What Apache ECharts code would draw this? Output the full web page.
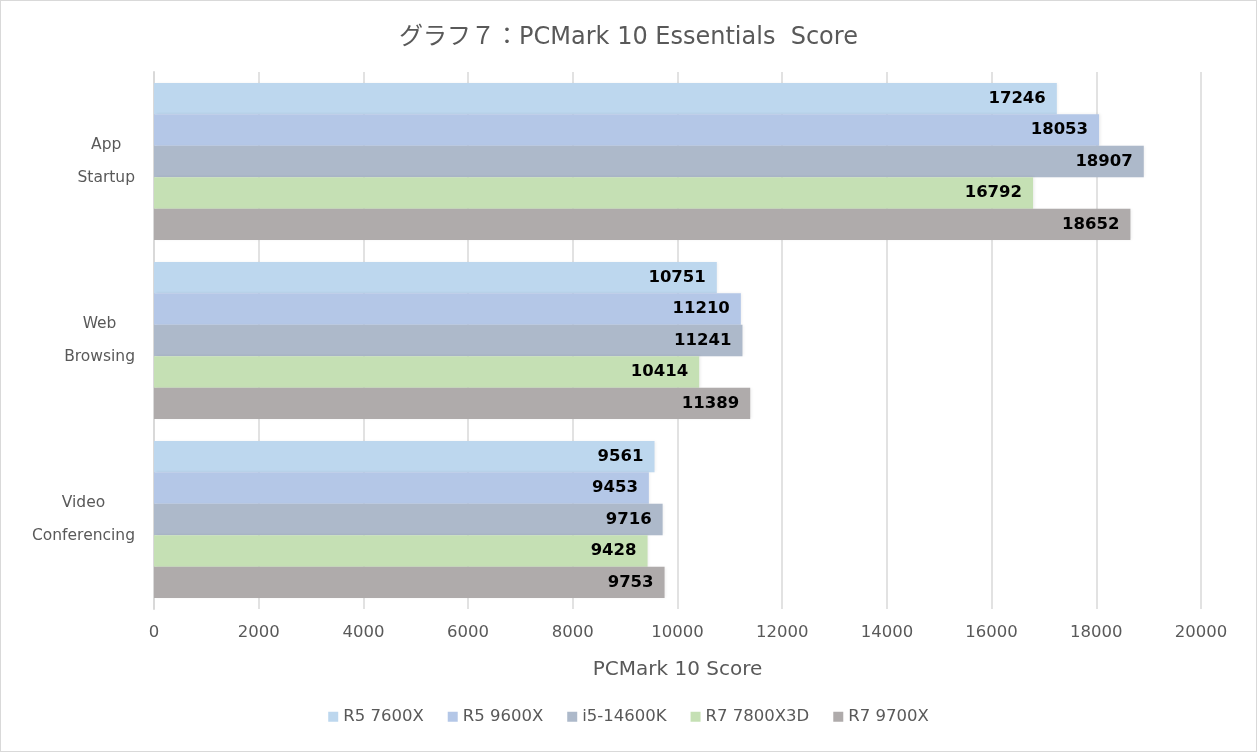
<!DOCTYPE html>
<html><head><meta charset="utf-8">
<script src="https://cdn.jsdelivr.net/npm/echarts@6/dist/echarts.min.js"></script>
<style>html,body{margin:0;padding:0;background:#fff}#c{width:1257px;height:752px;box-sizing:border-box;border:1px solid #d9d9d9}</style>
</head><body><div id="c"></div>
<script>
const categories = ['App\nStartup', 'Web\nBrowsing', 'Video\nConferencing'];
const seriesNames = ['R5 7600X', 'R5 9600X', 'i5-14600K', 'R7 7800X3D', 'R7 9700X'];
const r5_7600x = [17246, 10751, 9561];
const r5_9600x = [18053, 11210, 9453];
const i5_14600k = [18907, 11241, 9716];
const r7_7800x3d = [16792, 10414, 9428];
const r7_9700x = [18652, 11389, 9753];
const xTicks = {min: 0, max: 20000, interval: 2000};
const colors = ['#BDD7EE', '#B4C7E7', '#ADB9CA', '#C5E0B4', '#AFABAB'];
const allData = [r5_7600x, r5_9600x, i5_14600k, r7_7800x3d, r7_9700x];
const font = '"DejaVu Sans", "Noto Sans CJK JP", sans-serif';
const txt = '#595959';

const chart = echarts.init(document.getElementById('c'), null, {renderer: 'canvas'});
chart.setOption({
  animation: false,
  backgroundColor: '#fff',
  title: {
    text: 'グラフ７：PCMark 10 Essentials  Score',
    left: 'center', top: 20,
    textStyle: {fontFamily: font, fontSize: 24, fontWeight: 'normal', color: txt}
  },
  legend: {
    bottom: 21, left: 'center',
    itemWidth: 10, itemHeight: 10, itemGap: 24,
    icon: 'rect',
    textStyle: {fontFamily: font, fontSize: 16.5, color: txt},
    data: seriesNames
  },
  grid: {left: 153, right: 55, top: 71, bottom: 142},
  xAxis: {
    type: 'value', min: xTicks.min, max: xTicks.max, interval: xTicks.interval,
    name: 'PCMark 10 Score', nameLocation: 'middle', nameGap: 51,
    nameTextStyle: {fontFamily: font, fontSize: 20, color: txt},
    axisLine: {show: false}, axisTick: {show: false},
    axisLabel: {fontFamily: font, fontSize: 16.5, color: txt, margin: 15, formatter: v => String(v)},
    splitLine: {lineStyle: {color: '#d9d9d9', width: 1.5}}
  },
  yAxis: {
    type: 'category', data: categories, inverse: true,
    axisLine: {show: true, lineStyle: {color: '#d9d9d9', width: 2}},
    axisTick: {show: false},
    axisLabel: {
      color: txt, align: 'right', margin: 19,
      formatter: v => v.split('\n').map(s => '{a|' + s + '}').join('\n'),
      rich: {a: {fontFamily: font, fontSize: 15.5, color: txt, align: 'center', lineHeight: 33}}
    }
  },
  series: seriesNames.map((n, i) => ({
    name: n, type: 'bar', data: allData[i],
    barGap: '0%', barCategoryGap: '12.2%',
    itemStyle: {color: colors[i], shadowColor: 'rgba(0,0,0,0.07)', shadowBlur: 3, shadowOffsetX: 1.5, shadowOffsetY: 0},
    label: {show: true, position: 'insideRight', distance: 11, color: '#000',
      fontFamily: '"DejaVu Sans", sans-serif', fontWeight: 'bold', fontSize: 16.5}
  }))
});
</script></body></html>
